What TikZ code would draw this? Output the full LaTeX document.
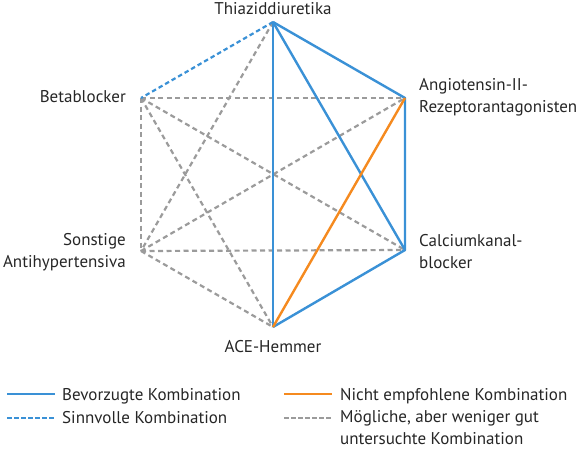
\documentclass[tikz,border=0pt]{standalone}
\usepackage{fontspec}
\setmainfont{PT Sans}
\begin{document}
\begin{tikzpicture}[x=1pt,y=-1pt,
  lbl/.style={font=\fontsize{17}{22}\selectfont, text=black!85, inner sep=0pt},
  pref/.style={draw=cblue, line width=2.4pt},
  sinn/.style={draw=cblue, line width=2.2pt, dash pattern=on 4.5pt off 3pt},
  nicht/.style={draw=corange, line width=2.4pt},
  mogl/.style={draw=cgray, line width=2.2pt, dash pattern=on 5pt off 3.5pt},
  lgd/.style={line width=2.2pt},
  lgdd/.style={line width=2pt, dash pattern=on 4.5pt off 2.5pt}]
\definecolor{cblue}{RGB}{58,145,214}
\definecolor{corange}{RGB}{245,138,31}
\definecolor{cgray}{RGB}{155,155,155}
\useasboundingbox (0,0) rectangle (581,448);
\coordinate (T) at (273,22);
\coordinate (A) at (405,98);
\coordinate (C) at (405,250);
\coordinate (E) at (273,327);
\coordinate (S) at (141,251);
\coordinate (B) at (141,98);
% gray dashed
\draw[mogl] (T) -- (S);
\draw[mogl] (B) -- (A);
\draw[mogl] (B) -- (C);
\draw[mogl] (B) -- (E);
\draw[mogl] (B) -- (S);
\draw[mogl] (S) -- (A);
\draw[mogl] (S) -- (C);
\draw[mogl] (S) -- (E);
% blue dashed
\draw[sinn] (T) -- (B);
% blue solid
\draw[pref] (T) -- (E);
\draw[pref] (T) -- (C);
\draw[pref, line join=round] (T) -- (A) -- (C) -- (E);
% orange
\draw[nicht] (A) -- (E);
% labels
\node[lbl, anchor=base] (lT) at (273,14) {Thiazid­diuretika};
\node[lbl, anchor=base west, align=left] (lA) at (419,112) {Angiotensin-II-\\Rezeptorantagonisten};
\node[lbl, anchor=base east] (lB) at (126,102) {Betablocker};
\node[lbl, anchor=base east, align=right] (lS) at (126,267) {Sonstige\\Antihypertensiva};
\node[lbl, anchor=base west, align=left] (lC) at (419,268) {Calciumkanal-\\blocker};
\node[lbl, anchor=base] (lE) at (273,352) {ACE-Hemmer};
% legend
\coordinate (l1a) at (7,394); \coordinate (l1b) at (55,394);
\coordinate (l2a) at (7,417.5); \coordinate (l2b) at (55,417.5);
\coordinate (l3a) at (284,394); \coordinate (l3b) at (332,394);
\coordinate (l4a) at (284,417.5); \coordinate (l4b) at (332,417.5);
\draw[pref, lgd] (l1a) -- (l1b);
\draw[sinn, lgdd] (l2a) -- (l2b);
\draw[nicht, lgd] (l3a) -- (l3b);
\draw[mogl, lgdd] (l4a) -- (l4b);
\node[lbl, anchor=base west] (t1) at (62,400) {Bevorzugte Kombination};
\node[lbl, anchor=base west] (t2) at (62,423) {Sinnvolle Kombination};
\node[lbl, anchor=base west] (t3) at (340,400) {Nicht empfohlene Kombination};
\node[lbl, anchor=base west, align=left] (t4) at (340,444) {Mögliche, aber weniger gut\\untersuchte Kombination};
\end{tikzpicture}
\end{document}
